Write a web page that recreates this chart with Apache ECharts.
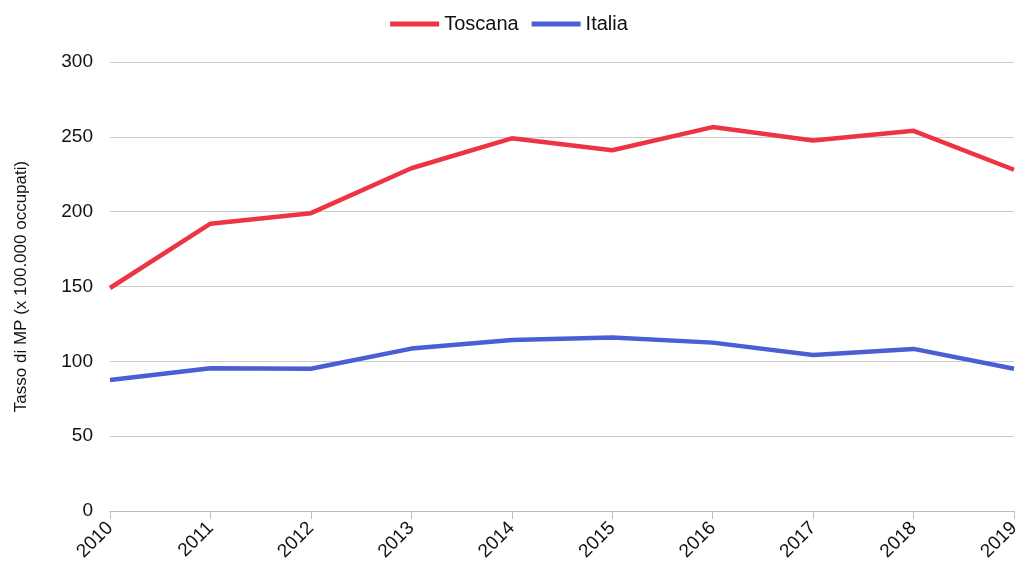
<!DOCTYPE html>
<html>
<head>
<meta charset="utf-8">
<script src="https://cdn.jsdelivr.net/npm/echarts@6/dist/echarts.min.js"></script>
<style>
  html, body { margin: 0; padding: 0; background: #fff; }
  #chart { width: 1018px; height: 572px; }
</style>
</head>
<body>
<div id="chart"></div>
<script>
// Tasso di MP per 100.000 occupati, 2010-2019
const years = ['2010', '2011', '2012', '2013', '2014', '2015', '2016', '2017', '2018', '2019'];
const toscana = [149, 192, 199, 229, 249, 241, 256.5, 247.5, 254, 228];
const italia = [87.6, 95.4, 95, 108.5, 114.3, 115.9, 112.5, 104.3, 108.3, 95];
const seriesNames = ['Toscana', 'Italia'];
const yAxisName = 'Tasso di MP (x 100.000 occupati)';

const font = '"Liberation Sans", Arial, sans-serif';
const chart = echarts.init(document.getElementById('chart'), null, { renderer: 'canvas' });

chart.setOption({
  animation: false,
  backgroundColor: '#ffffff',
  textStyle: { fontFamily: font },
  legend: {
    top: 9,
    left: 'center',
    icon: 'rect',
    itemWidth: 49,
    itemHeight: 5,
    itemGap: 13,
    itemTextGap: 8,
    textStyle: { fontSize: 20, color: '#111', fontFamily: font },
    data: seriesNames
  },
  grid: { left: 110, right: 4, top: 62, bottom: 61, containLabel: false, outerBoundsMode: 'none' },
  xAxis: {
    type: 'category',
    data: years,
    boundaryGap: false,
    axisLine: { lineStyle: { color: '#bdbdbd', width: 1 } },
    axisTick: { show: true, length: 8, lineStyle: { color: '#bdbdbd' } },
    axisLabel: { rotate: 45, fontSize: 19, color: '#111', margin: 14, fontFamily: font },
    splitLine: { show: false }
  },
  yAxis: {
    type: 'value',
    min: 0,
    max: 300,
    interval: 50,
    name: yAxisName,
    nameLocation: 'middle',
    nameGap: 80,
    nameTextStyle: { fontSize: 17, color: '#111', fontFamily: font },
    axisLine: { show: false },
    axisTick: { show: false },
    axisLabel: { fontSize: 19, color: '#111', margin: 17, fontFamily: font },
    splitLine: { lineStyle: { color: '#cccccc', width: 1 } }
  },
  series: [
    {
      name: seriesNames[0],
      type: 'line',
      data: toscana,
      symbol: 'none',
      lineStyle: { width: 4.5, color: '#EE3342' },
      itemStyle: { color: '#EE3342' }
    },
    {
      name: seriesNames[1],
      type: 'line',
      data: italia,
      symbol: 'none',
      lineStyle: { width: 4.5, color: '#4A5ED5' },
      itemStyle: { color: '#4A5ED5' }
    }
  ]
});
</script>
</body>
</html>
